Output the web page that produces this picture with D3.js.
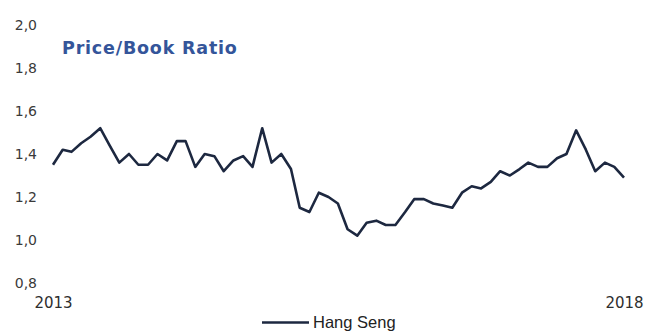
<!DOCTYPE html>
<html>
<head>
<meta charset="utf-8">
<script src="https://cdn.jsdelivr.net/npm/d3@7"></script>
<style>
  html, body { margin: 0; padding: 0; background: #fff; }
  svg { display: block; }
</style>
</head>
<body>
<svg id="chart" width="647" height="331"></svg>
<script>
// Hang Seng price/book ratio, monthly, Jan 2013 – Jan 2018
const startMonth = "2013-01";
const pbRatio = [
  1.35, 1.42, 1.41, 1.45, 1.48, 1.52, 1.44, 1.36, 1.40, 1.35,
  1.35, 1.40, 1.37, 1.46, 1.46, 1.34, 1.40, 1.39, 1.32, 1.37,
  1.39, 1.34, 1.52, 1.36, 1.40, 1.33, 1.15, 1.13, 1.22, 1.20,
  1.17, 1.05, 1.02, 1.08, 1.09, 1.07, 1.07, 1.13, 1.19, 1.19,
  1.17, 1.16, 1.15, 1.22, 1.25, 1.24, 1.27, 1.32, 1.30, 1.33,
  1.36, 1.34, 1.34, 1.38, 1.40, 1.51, 1.42, 1.32, 1.36, 1.34,
  1.29
];
const yTicks = [0.8, 1.0, 1.2, 1.4, 1.6, 1.8, 2.0];
const xTickYears = [2013, 2018];
const seriesName = "Hang Seng";
const chartTitle = "Price/Book Ratio";

const parseMonth = d3.timeParse("%Y-%m");
const t0 = parseMonth(startMonth);
const dates = pbRatio.map((_, i) => d3.timeMonth.offset(t0, i));
const points = pbRatio.map((v, i) => ({ date: dates[i], value: v }));

const svg = d3.select("#chart");
const x = d3.scaleTime()
  .domain([t0, dates[dates.length - 1]])
  .range([53, 624]);
const y = d3.scaleLinear().domain([0.8, 2.0]).range([283, 25]);

const locale = d3.formatLocale({ decimal: ",", thousands: ".", grouping: [3], currency: ["", ""] });
const fmt = locale.format(".1f");

// Y axis labels only
const yAxis = svg.append("g")
  .attr("transform", "translate(37,0)")
  .call(d3.axisLeft(y).tickValues(yTicks).tickFormat(fmt).tickSize(0).tickPadding(0));
yAxis.select(".domain").remove();
yAxis.selectAll("text")
  .attr("font-family", "'DejaVu Sans', Verdana, sans-serif")
  .attr("font-size", 14)
  .attr("fill", "#3a3a3a");

// X axis: first and last year only
const xAxis = svg.append("g")
  .attr("transform", "translate(0,297)")
  .call(d3.axisBottom(x)
    .tickValues(xTickYears.map(yr => new Date(yr, 0, 1)))
    .tickFormat(d3.timeFormat("%Y"))
    .tickSize(0).tickPadding(0));
xAxis.select(".domain").remove();
xAxis.selectAll("text")
  .attr("font-family", "'DejaVu Sans', Verdana, sans-serif")
  .attr("font-size", 15)
  .attr("fill", "#2e2e2e");

// Title
svg.append("text")
  .attr("x", 62).attr("y", 54)
  .attr("font-family", "'DejaVu Sans', Verdana, sans-serif")
  .attr("font-weight", "bold")
  .attr("font-size", 17.5)
  .attr("letter-spacing", 0.8)
  .attr("fill", "#34559a")
  .text(chartTitle);

// Series line
const line = d3.line().x(d => x(d.date)).y(d => y(d.value));
svg.append("path")
  .datum(points)
  .attr("d", line)
  .attr("fill", "none")
  .attr("stroke", "#1d2840")
  .attr("stroke-width", 2.6)
  .attr("stroke-linejoin", "round");

// Legend
const legend = svg.append("g");
legend.append("line")
  .attr("x1", 262).attr("x2", 309).attr("y1", 322.5).attr("y2", 322.5)
  .attr("stroke", "#1d2840").attr("stroke-width", 2.6);
legend.append("text")
  .attr("x", 313).attr("y", 327.5)
  .attr("font-family", "'Liberation Sans', Arial, sans-serif")
  .attr("font-size", 16.5)
  .attr("fill", "#222")
  .text(seriesName);
</script>
</body>
</html>
